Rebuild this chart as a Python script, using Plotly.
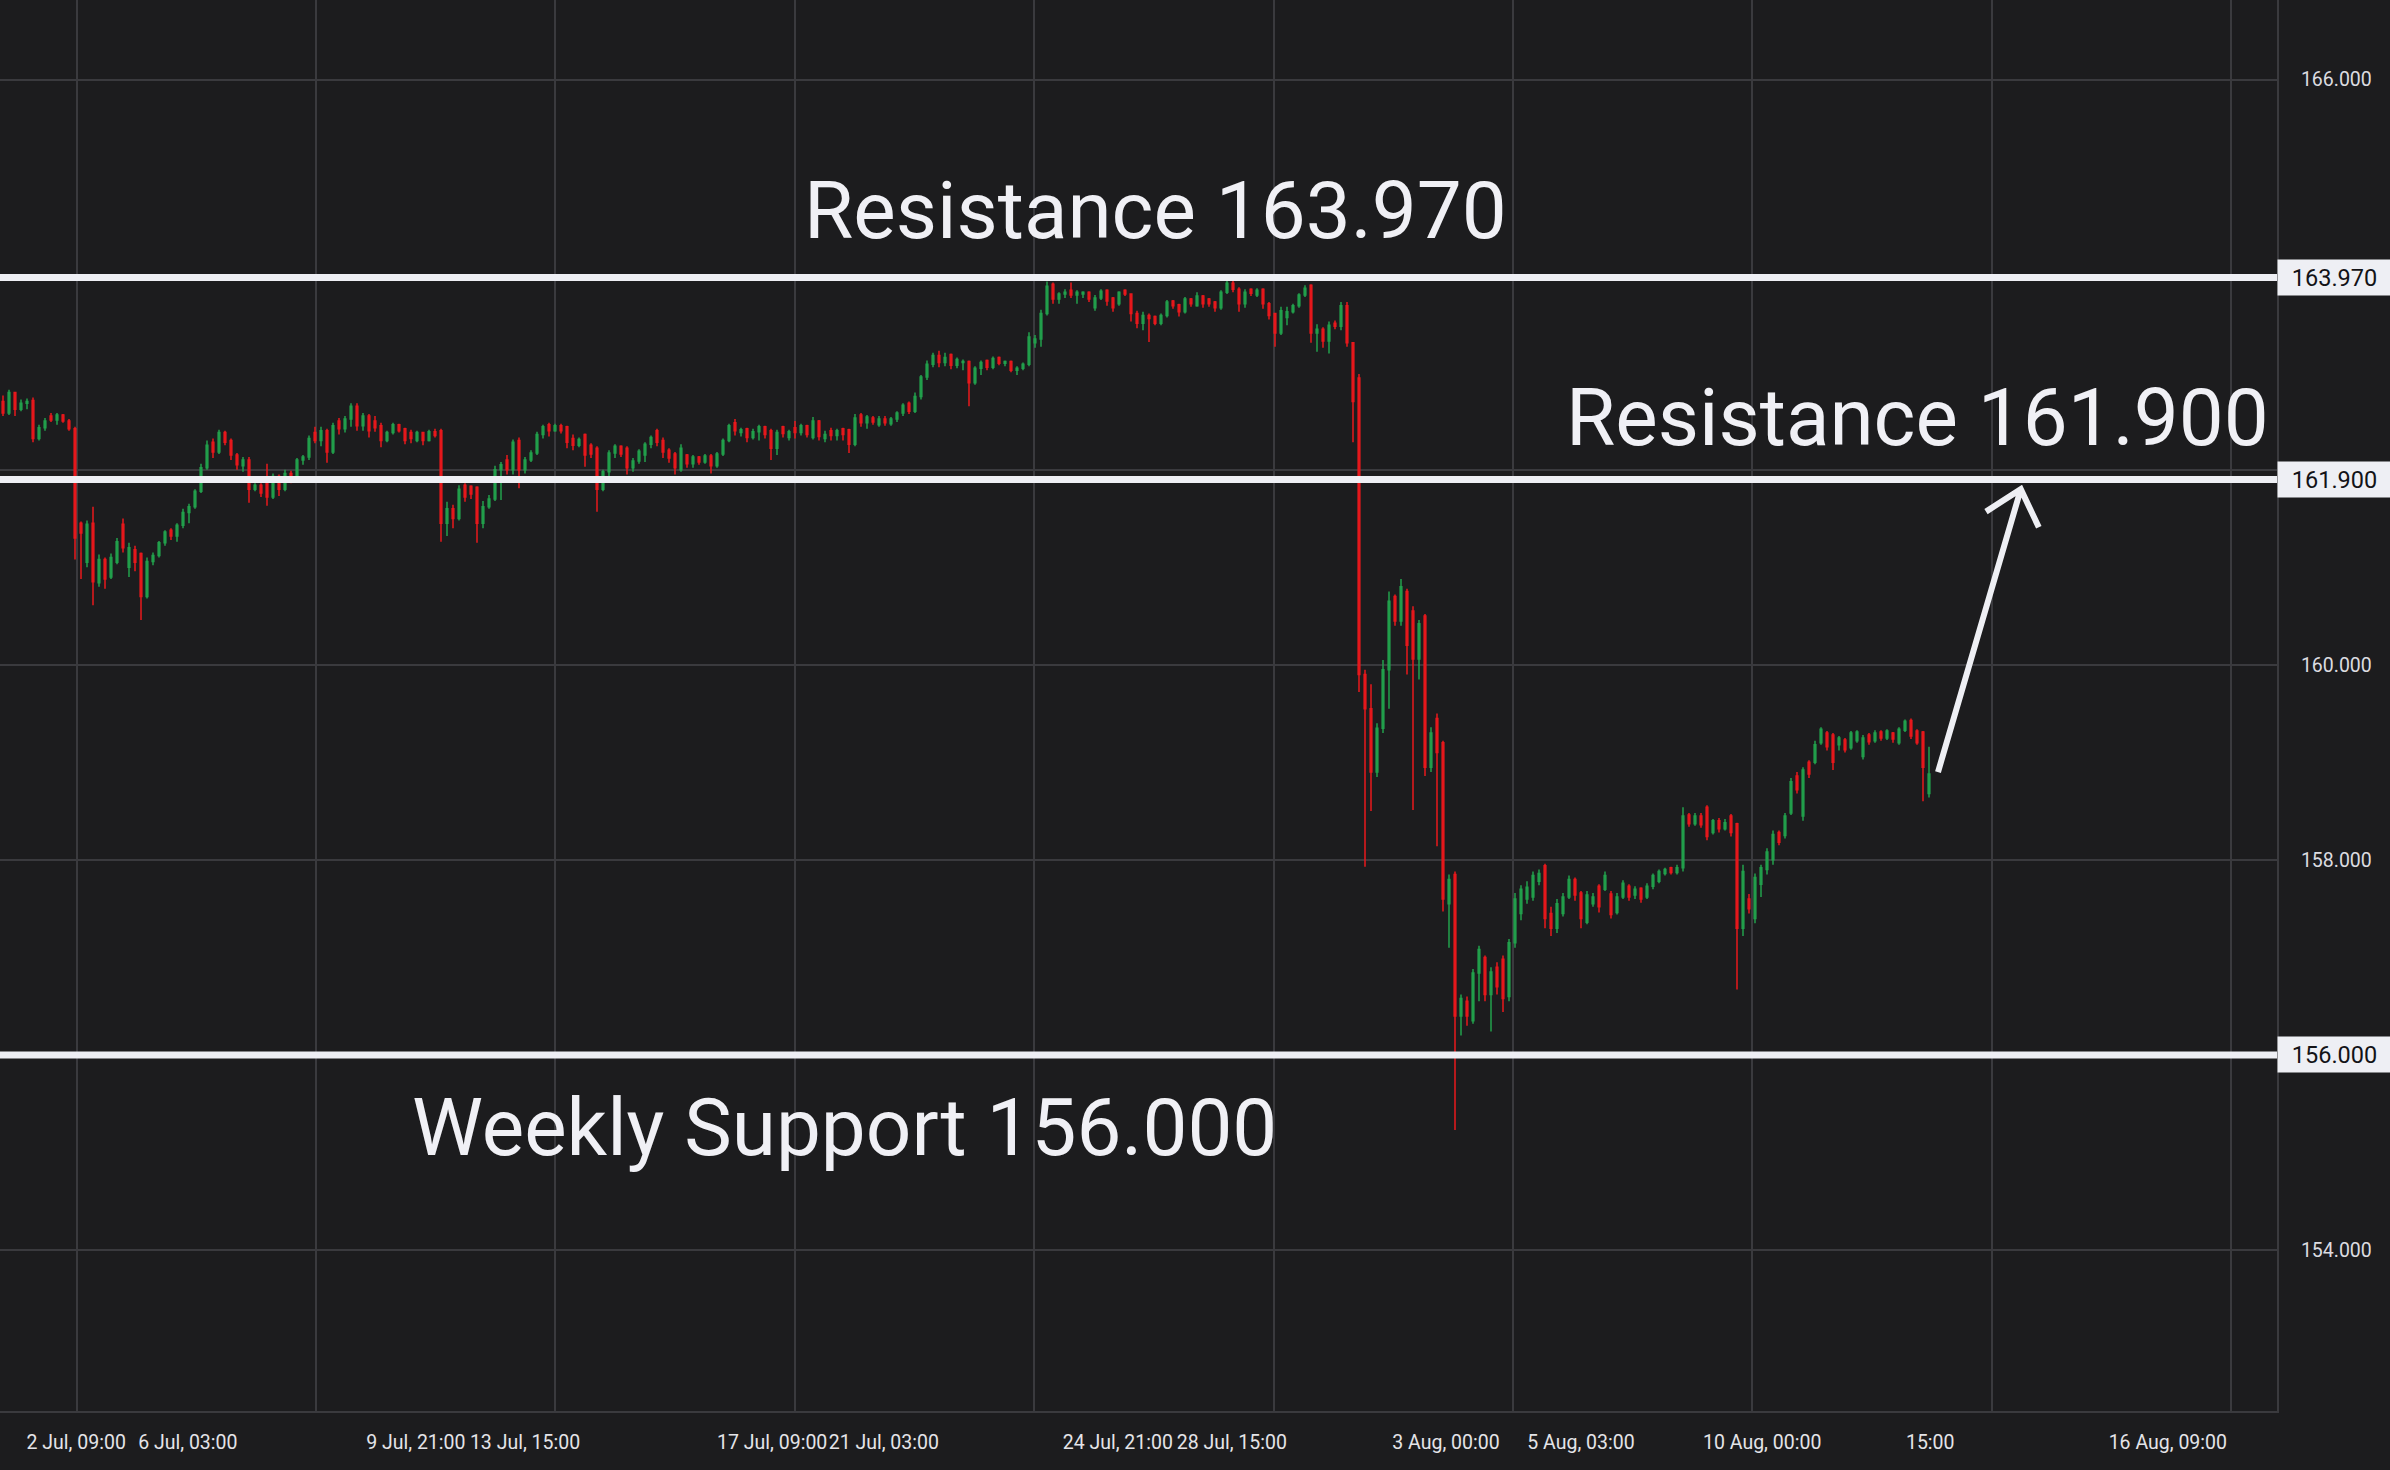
import plotly.graph_objects as go

# ---------------- data ----------------
opens = [
162.70,162.58,162.79,162.62,162.68,162.71,162.32,162.43,162.55,162.51,
162.56,162.50,162.42,161.45,161.05,161.45,160.84,161.08,160.90,161.05,
161.44,161.00,161.18,161.14,160.70,161.06,161.12,161.25,161.38,161.32,
161.43,161.56,161.62,161.78,162.02,162.28,162.18,162.38,162.30,162.15,
162.04,162.10,161.80,161.84,161.90,161.72,161.93,161.80,161.96,161.90,
162.10,162.13,162.38,162.30,162.40,162.18,162.50,162.42,162.52,162.65,
162.45,162.55,162.50,162.45,162.30,162.38,162.46,162.42,162.38,162.30,
162.38,162.30,162.39,162.40,161.45,161.60,161.50,161.84,161.83,161.82,
161.45,161.62,161.70,162.00,162.10,162.00,162.30,162.00,162.10,162.17,
162.36,162.46,162.40,162.45,162.44,162.32,162.25,162.36,162.25,162.22,
161.80,161.98,162.17,162.24,162.22,162.02,162.09,162.15,162.26,162.40,
162.30,162.20,162.16,162.00,162.15,162.06,162.13,162.08,162.14,162.04,
162.16,162.30,162.48,162.38,162.42,162.33,162.39,162.44,162.40,162.22,
162.44,162.33,162.43,162.38,162.45,162.33,162.50,162.32,162.40,162.35,
162.42,162.41,162.26,162.56,162.48,162.53,162.46,162.52,162.47,162.52,
162.58,162.68,162.60,162.75,162.95,163.08,163.17,163.10,163.18,163.07,
163.10,163.11,162.89,163.04,163.12,163.05,163.15,163.09,163.11,163.02,
163.04,163.08,163.30,163.34,163.60,163.90,163.75,163.80,163.84,163.79,
163.80,163.82,163.66,163.76,163.84,163.76,163.70,163.84,163.80,163.60,
163.50,163.58,163.57,163.50,163.58,163.73,163.69,163.62,163.75,163.68,
163.78,163.75,163.72,163.66,163.82,163.91,163.85,163.70,163.85,163.79,
163.85,163.70,163.60,163.40,163.56,163.62,163.68,163.79,163.89,163.40,
163.44,163.32,163.50,163.47,163.68,163.30,162.94,159.90,159.55,158.90,
159.35,159.95,160.70,160.45,160.75,160.55,160.06,160.50,158.95,159.45,
159.20,157.55,157.85,156.40,156.55,156.35,156.84,157.00,156.62,156.90,
156.98,156.60,157.15,157.45,157.60,157.62,157.78,157.94,157.45,157.30,
157.45,157.62,157.80,157.66,157.36,157.55,157.73,157.70,157.65,157.46,
157.62,157.73,157.64,157.71,157.62,157.73,157.78,157.86,157.92,157.87,
157.92,158.46,158.37,158.45,158.54,158.28,158.40,158.32,158.45,158.37,
157.30,157.60,157.40,157.75,157.90,158.00,158.28,158.25,158.48,158.86,
158.45,159.00,159.00,159.20,159.30,159.28,159.18,159.23,159.15,159.22,
159.06,159.28,159.22,159.31,159.25,159.30,159.20,159.33,159.43,159.32,
159.31,158.68]

highs = [
162.76,162.82,162.80,162.72,162.73,162.74,162.46,162.53,162.58,162.58,
162.57,162.52,162.44,161.47,161.48,161.62,161.13,161.10,161.14,161.30,
161.50,161.25,161.22,161.15,161.10,161.15,161.27,161.38,161.40,161.45,
161.60,161.65,161.80,162.06,162.30,162.32,162.41,162.40,162.32,162.17,
162.13,162.13,161.86,161.86,162.06,161.96,161.95,162.00,161.99,162.12,
162.15,162.35,162.44,162.44,162.42,162.48,162.53,162.55,162.68,162.68,
162.58,162.57,162.55,162.48,162.40,162.48,162.47,162.43,162.41,162.40,
162.39,162.41,162.42,162.42,161.67,161.64,161.84,161.86,161.84,161.83,
161.68,161.74,162.04,162.08,162.15,162.31,162.33,162.13,162.20,162.39,
162.46,162.48,162.47,162.47,162.45,162.36,162.33,162.37,162.27,162.24,
162.00,162.20,162.26,162.25,162.24,162.12,162.21,162.28,162.35,162.42,
162.33,162.22,162.18,162.26,162.16,162.15,162.14,162.16,162.16,162.18,
162.32,162.47,162.52,162.43,162.43,162.42,162.46,162.45,162.42,162.41,
162.45,162.41,162.50,162.47,162.46,162.54,162.51,162.40,162.43,162.42,
162.43,162.42,162.57,162.58,162.56,162.55,162.55,162.55,162.54,162.60,
162.68,162.70,162.79,162.97,163.12,163.20,163.22,163.20,163.19,163.15,
163.13,163.12,163.06,163.12,163.13,163.16,163.16,163.12,163.12,163.06,
163.10,163.41,163.38,163.64,163.93,163.92,163.82,163.85,163.92,163.84,
163.83,163.83,163.79,163.85,163.85,163.77,163.83,163.85,163.81,163.63,
163.62,163.60,163.58,163.60,163.74,163.74,163.70,163.77,163.76,163.82,
163.79,163.76,163.73,163.84,163.96,163.96,163.87,163.85,163.86,163.86,
163.86,163.72,163.61,163.67,163.67,163.70,163.81,163.89,163.90,163.49,
163.46,163.52,163.53,163.72,163.72,163.30,162.98,159.95,159.80,159.40,
160.05,160.75,160.72,160.88,160.78,160.60,160.46,160.52,159.36,159.50,
159.22,157.85,157.88,156.62,156.60,156.88,157.12,157.02,156.90,156.95,
157.02,157.19,157.66,157.74,157.78,157.88,157.90,157.96,157.52,157.60,
157.66,157.84,157.82,157.68,157.68,157.66,157.75,157.88,157.68,157.66,
157.79,157.75,157.73,157.72,157.76,157.86,157.90,157.92,157.93,157.95,
158.54,158.48,158.48,158.48,158.56,158.42,158.43,158.42,158.47,158.38,
157.95,157.65,157.86,157.95,158.12,158.30,158.30,158.48,158.84,158.90,
158.95,159.02,159.22,159.36,159.32,159.30,159.27,159.25,159.32,159.33,
159.28,159.30,159.33,159.33,159.34,159.31,159.36,159.44,159.45,159.34,
159.32,159.16]

lows = [
162.55,162.56,162.55,162.60,162.62,162.28,162.30,162.40,162.49,162.46,
162.48,162.40,161.08,160.88,161.00,160.61,160.80,160.78,160.88,161.03,
161.15,160.90,160.96,160.46,160.68,161.02,161.10,161.22,161.28,161.26,
161.40,161.45,161.60,161.76,162.00,162.12,162.16,162.25,162.10,162.00,
161.98,161.66,161.78,161.72,161.63,161.70,161.73,161.78,161.86,161.88,
162.05,162.10,162.27,162.24,162.07,162.16,162.36,162.38,162.44,162.40,
162.40,162.33,162.39,162.23,162.28,162.36,162.38,162.26,162.27,162.28,
162.25,162.29,162.33,161.26,161.32,161.40,161.48,161.67,161.70,161.25,
161.40,161.60,161.68,161.69,161.95,161.95,161.81,161.96,162.08,162.15,
162.32,162.34,162.39,162.37,162.22,162.20,162.23,162.03,162.12,161.57,
161.78,161.92,162.12,162.13,161.95,161.98,162.06,162.08,162.22,162.24,
162.12,162.07,161.95,161.98,162.02,162.02,162.05,162.06,161.96,162.02,
162.14,162.28,162.35,162.34,162.28,162.31,162.30,162.32,162.10,162.15,
162.33,162.30,162.32,162.35,162.33,162.31,162.30,162.28,162.30,162.30,
162.30,162.17,162.24,162.44,162.42,162.46,162.44,162.45,162.45,162.49,
162.55,162.57,162.58,162.72,162.92,163.05,163.05,163.06,163.03,163.04,
163.02,162.65,162.87,162.97,163.02,163.03,163.07,163.06,163.00,162.97,
163.02,163.06,163.25,163.26,163.58,163.70,163.70,163.76,163.76,163.70,
163.76,163.72,163.63,163.74,163.68,163.62,163.68,163.78,163.52,163.45,
163.43,163.31,163.48,163.48,163.56,163.65,163.57,163.60,163.67,163.67,
163.66,163.67,163.62,163.64,163.80,163.82,163.62,163.66,163.78,163.77,
163.65,163.54,163.26,163.38,163.48,163.60,163.66,163.77,163.30,163.21,
163.25,163.19,163.44,163.43,163.26,162.28,159.72,157.93,158.50,158.85,
159.30,159.55,160.40,160.40,159.90,158.51,159.85,158.86,158.90,158.14,
157.47,157.10,155.23,156.20,156.30,156.32,156.55,156.55,156.24,156.62,
156.44,156.55,157.10,157.38,157.55,157.58,157.74,157.30,157.22,157.25,
157.42,157.60,157.58,157.30,157.34,157.52,157.46,157.68,157.40,157.44,
157.60,157.58,157.60,157.56,157.60,157.70,157.76,157.84,157.85,157.85,
157.88,158.34,158.35,158.33,158.20,158.26,158.28,158.30,158.24,156.67,
157.22,157.45,157.35,157.62,157.85,157.95,158.15,158.22,158.46,158.68,
158.40,158.84,158.98,159.18,159.12,158.92,159.12,159.10,159.13,159.20,
159.03,159.18,159.20,159.22,159.23,159.20,159.18,159.31,159.24,159.18,
158.60,158.64]

closes = [
162.58,162.79,162.62,162.68,162.70,162.32,162.43,162.50,162.51,162.56,
162.50,162.42,161.30,161.35,161.44,160.85,161.08,160.88,161.10,161.26,
161.20,161.20,161.05,160.70,161.06,161.12,161.25,161.36,161.32,161.43,
161.56,161.62,161.78,162.02,162.25,162.18,162.38,162.28,162.15,162.05,
162.10,161.80,161.84,161.76,161.72,161.93,161.80,161.96,161.90,162.10,
162.13,162.32,162.30,162.40,162.18,162.45,162.42,162.52,162.65,162.45,
162.55,162.40,162.43,162.30,162.38,162.46,162.40,162.30,162.32,162.38,
162.30,162.39,162.35,161.45,161.60,161.50,161.80,161.72,161.75,161.45,
161.62,161.70,162.00,162.05,162.00,162.28,162.00,162.10,162.17,162.36,
162.44,162.40,162.45,162.40,162.28,162.25,162.31,162.15,162.16,161.80,
161.98,162.17,162.24,162.16,162.02,162.09,162.19,162.26,162.33,162.28,
162.18,162.12,162.02,162.22,162.06,162.13,162.08,162.14,162.04,162.16,
162.30,162.45,162.40,162.41,162.33,162.39,162.44,162.36,162.22,162.38,
162.37,162.39,162.38,162.45,162.36,162.50,162.34,162.36,162.35,162.40,
162.36,162.26,162.53,162.48,162.54,162.49,162.52,162.48,162.52,162.58,
162.66,162.60,162.75,162.95,163.08,163.17,163.10,163.15,163.07,163.13,
163.11,162.89,163.04,163.10,163.05,163.14,163.09,163.11,163.02,163.04,
163.08,163.36,163.34,163.60,163.88,163.75,163.80,163.82,163.79,163.82,
163.82,163.75,163.76,163.83,163.73,163.66,163.82,163.80,163.60,163.50,
163.58,163.55,163.50,163.58,163.72,163.68,163.62,163.75,163.70,163.78,
163.70,163.70,163.66,163.82,163.91,163.85,163.70,163.82,163.81,163.84,
163.70,163.58,163.40,163.63,163.62,163.68,163.79,163.86,163.40,163.44,
163.32,163.48,163.47,163.68,163.30,162.70,159.90,159.55,158.90,159.35,
159.95,160.65,160.45,160.80,160.20,160.06,160.42,158.95,159.30,159.10,
157.60,157.80,156.40,156.58,156.40,156.84,157.08,156.62,156.85,156.70,
156.58,157.15,157.60,157.70,157.72,157.84,157.86,157.40,157.30,157.55,
157.62,157.80,157.64,157.40,157.64,157.62,157.52,157.84,157.44,157.62,
157.76,157.62,157.70,157.60,157.73,157.84,157.88,157.90,157.87,157.92,
158.45,158.37,158.45,158.36,158.24,158.40,158.32,158.38,158.28,157.30,
157.88,157.50,157.82,157.92,158.08,158.26,158.18,158.45,158.80,158.72,
158.92,158.88,159.18,159.34,159.16,159.00,159.25,159.13,159.30,159.31,
159.25,159.21,159.30,159.25,159.32,159.24,159.34,159.42,159.27,159.20,
158.95,158.88]

bar_index = list(range(len(closes)))

# time-axis labels (bar position of each label)
x_tick_labels = ["2 Jul, 09:00", "6 Jul, 03:00", "9 Jul, 21:00", "13 Jul, 15:00",
                 "17 Jul, 09:00", "21 Jul, 03:00", "24 Jul, 21:00", "28 Jul, 15:00",
                 "3 Aug, 00:00", "5 Aug, 03:00", "10 Aug, 00:00", "15:00", "16 Aug, 09:00"]
x_tick_bars = [12.2, 30.8, 68.8, 87.0, 128.2, 146.8, 185.8, 204.8,
               240.5, 263.0, 293.2, 321.2, 360.8]

# price axis ticks (labels hidden under the level tags are left blank)
y_tick_values = [154, 156, 158, 160, 162, 164, 166]
y_tick_labels = ["154.000", "", "158.000", "160.000", "", "", "166.000"]

# horizontal levels
level_prices = [163.970, 161.900, 156.000]
level_titles = ["Resistance 163.970", "Resistance 161.900", "Weekly Support 156.000"]

# arrow drawing (bar, price)
arrow_tail = [322.5, 158.90]
arrow_tip = [336.3, 161.80]
arrow_left = [330.5, 161.57]
arrow_right = [339.3, 161.41]

# ---------------- styling ----------------
BG = "#1c1c1e"
GRID = "#3a3a3e"
UP = "#22a04c"
DOWN = "#e8181c"
WHITE = "#eeeff4"

x_range = [-0.5, 379.0]
y_range = [152.35, 166.815]
grid_start, grid_step = 12.25, 39.9

fig = go.Figure()
fig.add_trace(go.Candlestick(
    x=bar_index, open=opens, high=highs, low=lows, close=closes,
    increasing=dict(line=dict(color=UP, width=1.5), fillcolor=UP),
    decreasing=dict(line=dict(color=DOWN, width=1.5), fillcolor=DOWN),
    whiskerwidth=0, showlegend=False, hoverinfo="skip",
))
fig.add_trace(go.Scatter(x=[], y=[], xaxis="x2", yaxis="y", showlegend=False))

fig.update_layout(
    width=2390, height=1470, autosize=False,
    margin=dict(l=0, r=113, t=0, b=59, pad=0),
    paper_bgcolor=BG, plot_bgcolor=BG,
    boxgap=0.6,
    showlegend=False,
    xaxis=dict(
        range=x_range, tickmode="array", tickvals=x_tick_bars, ticktext=x_tick_labels,
        tickangle=0, automargin=False,
        showgrid=False, zeroline=False, showline=True, linecolor=GRID, linewidth=2,
        ticks="", tickfont=dict(family="Roboto", size=19.5, color="#e4e4e8"),
        ticklabelstandoff=13, rangeslider=dict(visible=False), fixedrange=True,
    ),
    xaxis2=dict(
        overlaying="x", range=x_range, tickmode="linear", tick0=grid_start, dtick=grid_step,
        showgrid=True, gridcolor=GRID, gridwidth=2, showticklabels=False, ticks="",
        zeroline=False, showline=False, side="bottom", automargin=False,
    ),
    yaxis=dict(
        side="right", range=y_range, tickmode="array", tickvals=y_tick_values,
        ticktext=y_tick_labels, automargin=False,
        showgrid=True, gridcolor=GRID, gridwidth=2, zeroline=False,
        showline=True, linecolor=GRID, linewidth=2, ticks="",
        tickfont=dict(family="Roboto", size=19.5, color="#dcdce0"),
        ticklabelstandoff=18, fixedrange=True,
    ),
)

shapes = []
for lvl in level_prices:
    shapes.append(dict(type="line", xref="paper", x0=0, x1=1, yref="y", y0=lvl, y1=lvl,
                       line=dict(color=WHITE, width=7), layer="above"))
path = (f"M {arrow_tail[0]},{arrow_tail[1]} L {arrow_tip[0]},{arrow_tip[1]} "
        f"M {arrow_left[0]},{arrow_left[1]} L {arrow_tip[0]},{arrow_tip[1]} "
        f"L {arrow_right[0]},{arrow_right[1]}")
shapes.append(dict(type="path", xref="x", yref="y", path=path,
                   line=dict(color=WHITE, width=6), layer="above"))
fig.update_layout(shapes=shapes)

annotations = []
for lvl in level_prices:
    annotations.append(dict(
        text=f"{lvl:.3f}", xref="paper", x=1, xanchor="left", yref="y", y=lvl, yanchor="middle",
        showarrow=False, bgcolor=WHITE, width=113, height=35, borderpad=0, align="center",
        font=dict(family="Roboto", size=23.5, color="#131317"),
    ))
title_pos = [(0.5073, 164.650), (0.8423, 162.535), (0.3711, 155.250)]
for (tx, ty), title in zip(title_pos, level_titles):
    annotations.append(dict(
        text=title, xref="paper", x=tx, xanchor="center", yref="y", y=ty, yanchor="middle",
        showarrow=False, font=dict(family="Roboto", size=80, color="#f0f0f5"),
    ))
fig.update_layout(annotations=annotations)

fig.write_html(
    "out.html",
    config={"displayModeBar": False},
    post_script="document.body.style.margin='0';document.body.style.overflow='hidden';",
)
